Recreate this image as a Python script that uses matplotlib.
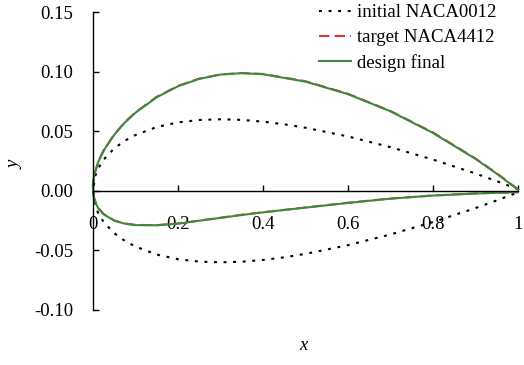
import matplotlib
matplotlib.use("Agg")
import matplotlib.pyplot as plt

plt.rcParams['font.family'] = ['Liberation Serif', 'DejaVu Serif']
plt.rcParams['axes.unicode_minus'] = False

# ---- data ----
# initial NACA0012 (upper TE->LE, lower surface is the mirror image)
x_init_up = [1.0, 0.95, 0.9, 0.8, 0.7, 0.6, 0.5, 0.45, 0.4, 0.35, 0.3, 0.25, 0.2, 0.15,
             0.1, 0.075, 0.05, 0.025, 0.0125, 0.005, 0.0]
y_init_up = [0.0013, 0.0081, 0.0145, 0.0262, 0.0366, 0.0456, 0.0529, 0.0558, 0.0580, 0.0595,
             0.0600, 0.0594, 0.0574, 0.0535, 0.0468, 0.0420, 0.0356, 0.0262, 0.0189, 0.0122, 0.0]

# target NACA4412
x_tgt_up = [1.0, 0.95, 0.9, 0.8, 0.7, 0.6, 0.5, 0.4, 0.35, 0.3, 0.25, 0.2, 0.15, 0.1,
            0.075, 0.05, 0.025, 0.0125, 0.0026, -0.0001, 0.0]
y_tgt_up = [0.0013, 0.0147, 0.0271, 0.0489, 0.0669, 0.0814, 0.0919, 0.0980, 0.0988, 0.0976,
            0.0941, 0.0880, 0.0789, 0.0659, 0.0576, 0.0473, 0.0339, 0.0244, 0.0130, 0.0057, 0.0]
x_tgt_lo = [0.0, 0.0021, 0.0074, 0.0125, 0.025, 0.05, 0.075, 0.1, 0.15, 0.2, 0.25, 0.3,
            0.35, 0.4, 0.5, 0.6, 0.7, 0.8, 0.9, 0.95, 1.0]
y_tgt_lo = [0.0, -0.0053, -0.0110, -0.0143, -0.0195, -0.0249, -0.0274, -0.0286, -0.0288,
            -0.0274, -0.0250, -0.0226, -0.0201, -0.0180, -0.0140, -0.0100, -0.0065, -0.0039,
            -0.0022, -0.0016, -0.0013]

# design final
x_des_up = [1.0, 0.95, 0.9, 0.8, 0.7, 0.6, 0.5, 0.4, 0.35, 0.3, 0.25, 0.2, 0.15, 0.1,
            0.075, 0.05, 0.025, 0.0125, 0.0026, -0.0001, 0.0]
y_des_up = [0.0010, 0.0143, 0.0268, 0.0485, 0.0667, 0.0811, 0.0916, 0.0978, 0.0987, 0.0975,
            0.0939, 0.0877, 0.0785, 0.0655, 0.0573, 0.0470, 0.0337, 0.0243, 0.0130, 0.0057, 0.0]
x_des_lo = [0.0, 0.0021, 0.0074, 0.0125, 0.025, 0.05, 0.075, 0.1, 0.15, 0.2, 0.25, 0.3,
            0.35, 0.4, 0.5, 0.6, 0.7, 0.8, 0.9, 0.95, 1.0]
y_des_lo = [0.0, -0.0054, -0.0112, -0.0145, -0.0197, -0.0251, -0.0276, -0.0288, -0.0289,
            -0.0276, -0.0251, -0.0227, -0.0203, -0.0181, -0.0141, -0.0102, -0.0066, -0.0040,
            -0.0023, -0.0017, -0.0010]

x_ticks = [0, 0.2, 0.4, 0.6, 0.8, 1.0]
x_tick_labels = ['0', '0.2', '0.4', '0.6', '0.8', '1']
y_ticks = [-0.10, -0.05, 0.00, 0.05, 0.10, 0.15]
y_tick_labels = ['-0.10', '-0.05', '0.00', '0.05', '0.10', '0.15']

labels = ['initial NACA0012', 'target NACA4412', 'design final']

# ---- figure ----
W, H = 524, 365
fig = plt.figure(figsize=(W / 100, H / 100), dpi=100)
ax = fig.add_axes([93 / W, (H - 310) / H, (518 - 93) / W, (310 - 12) / H])

FS = 13.5

x_init = x_init_up + x_init_up[::-1][1:]
y_init = y_init_up + [-v for v in y_init_up[::-1][1:]]
x_tgt = x_tgt_up + x_tgt_lo[1:]
y_tgt = y_tgt_up + y_tgt_lo[1:]
x_des = x_des_up + x_des_lo[1:]
y_des = y_des_up + y_des_lo[1:]

l1, = ax.plot(x_init, y_init, color='black', lw=1.5, linestyle=(0, (1.4, 3.2)), clip_on=False)
l2, = ax.plot(x_tgt, y_tgt, color='#e5322a', lw=1.5, linestyle=(0, (5, 2.5)), clip_on=False)
l3, = ax.plot(x_des, y_des, color='#3c8a40', lw=1.5, clip_on=False)

ax.set_xlim(0, 1)
ax.set_ylim(-0.10, 0.15)
ax.spines['top'].set_visible(False)
ax.spines['right'].set_visible(False)
ax.spines['bottom'].set_position(('data', 0))
ax.spines['bottom'].set_linewidth(1.0)
ax.spines['left'].set_linewidth(1.0)

ax.set_xticks(x_ticks)
ax.set_xticklabels(x_tick_labels)
ax.set_yticks(y_ticks)
ax.set_yticklabels(y_tick_labels)
ax.tick_params(axis='x', direction='in', length=4, width=1, pad=18, labelsize=FS)
ax.tick_params(axis='y', direction='in', length=4, width=1, pad=14, labelsize=FS)

fig.text(303 / W, 1 - 345 / H, 'x', style='italic', fontsize=FS, ha='center', va='center')
fig.text(15 / W, 1 - 165 / H, 'y', style='italic', fontsize=FS, ha='center', va='center',
         rotation=90)

fig.legend([l1, l2, l3], labels, loc='upper left', bbox_to_anchor=(319 / W, 1 - 4 / H),
           frameon=False, fontsize=FS, borderpad=0, borderaxespad=0,
           handlelength=32 / 18.75, handletextpad=0.3, labelspacing=0.42)

fig.savefig('out.png', dpi=100)
